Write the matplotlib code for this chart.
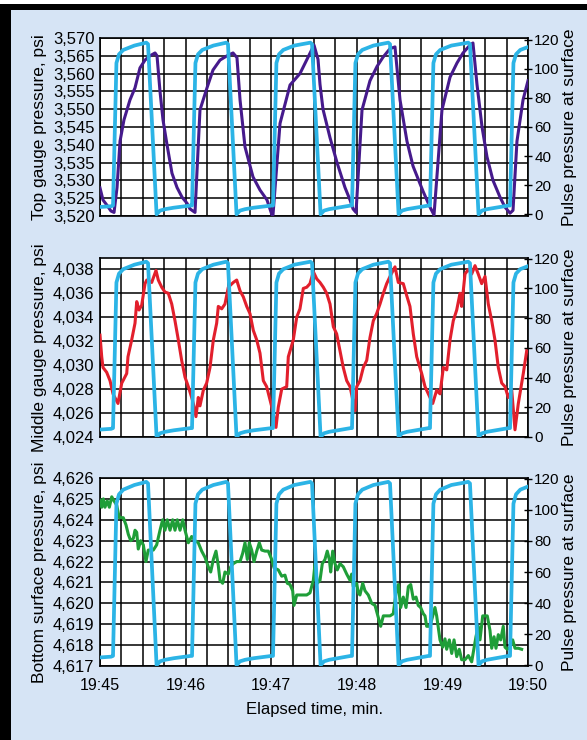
import matplotlib
matplotlib.use("Agg")
import matplotlib.pyplot as plt
from matplotlib.patches import Rectangle
from matplotlib.ticker import MultipleLocator, FuncFormatter, FixedLocator

plt.rcParams['font.family'] = ['Liberation Sans', 'DejaVu Sans']

# ---------------- data (time in minutes after 19:45) ----------------
time_labels = ['19:45', '19:46', '19:47', '19:48', '19:49', '19:50']

pulse_t = [0.0, 0.13,
           0.152, 0.192, 0.222, 0.272, 0.402, 0.541, 0.561, 0.661, 0.701, 0.761, 0.861, 1.06,
           1.075, 1.115, 1.145, 1.195, 1.325, 1.475, 1.495, 1.595, 1.635, 1.695, 1.795, 2.006,
           2.021, 2.061, 2.091, 2.141, 2.271, 2.457, 2.477, 2.577, 2.617, 2.677, 2.777, 2.929,
           2.944, 2.984, 3.014, 3.064, 3.194, 3.368, 3.388, 3.488, 3.528, 3.588, 3.688, 3.84,
           3.855, 3.895, 3.925, 3.975, 4.105, 4.302, 4.322, 4.422, 4.462, 4.522, 4.622, 4.775,
           4.79, 4.83, 4.86, 4.91, 5.0]
pulse_v = [5, 5.5,
           6, 104, 110, 113, 116, 118, 117, 0, 2.5, 3.5, 4.5, 6,
           6, 104, 110, 113, 116, 118, 117, 0, 2.5, 3.5, 4.5, 6,
           6, 104, 110, 113, 116, 118, 117, 0, 2.5, 3.5, 4.5, 6,
           6, 104, 110, 113, 116, 118, 117, 0, 2.5, 3.5, 4.5, 6,
           6, 104, 110, 113, 116, 118, 117, 0, 2.5, 3.5, 4.5, 6,
           6, 104, 110, 113, 115]

top_t = [0.000, 0.035, 0.082, 0.128, 0.164, 0.199, 0.234, 0.280, 0.350, 0.409, 0.467, 0.526,
         0.584, 0.643, 0.666, 0.701, 0.736, 0.783, 0.841, 0.900, 0.958, 1.016, 1.051, 1.110,
         1.168, 1.250, 1.320, 1.402, 1.484, 1.554, 1.600, 1.636, 1.694, 1.787, 1.869, 1.951,
         2.009, 2.021, 2.103, 2.220, 2.336, 2.418, 2.500, 2.547, 2.570, 2.605, 2.687, 2.769,
         2.862, 2.921, 2.956, 2.991, 3.061, 3.154, 3.236, 3.306, 3.388, 3.446, 3.505, 3.586,
         3.657, 3.773, 3.855, 3.902, 3.995, 4.089, 4.171, 4.241, 4.322, 4.357, 4.404, 4.463,
         4.521, 4.591, 4.673, 4.731, 4.790, 4.825, 4.871, 4.942, 5.000]
top_p = [3527.9, 3524.5, 3523.0, 3521.4, 3521.0, 3528.0, 3541.0, 3547.0, 3552.6, 3556.0, 3561.6, 3563.8,
         3565.0, 3565.8, 3565.0, 3555.0, 3547.0, 3540.0, 3532.0, 3528.0, 3525.3, 3523.6, 3522.0, 3521.0,
         3549.8, 3556.0, 3561.0, 3563.8, 3565.0, 3565.8, 3564.5, 3552.6, 3539.4, 3531.0, 3527.3, 3524.5,
         3520.3, 3520.3, 3546.0, 3556.8, 3560.0, 3564.0, 3568.0, 3564.0, 3557.0, 3550.0, 3542.0, 3535.0,
         3528.0, 3524.5, 3522.0, 3521.0, 3549.8, 3558.0, 3562.0, 3564.6, 3567.0, 3567.5, 3552.6, 3541.0,
         3534.0, 3527.0, 3522.5, 3520.3, 3549.8, 3559.0, 3563.0, 3565.8, 3568.0, 3568.6, 3557.0, 3545.0,
         3536.6, 3530.0, 3525.3, 3522.5, 3520.8, 3521.6, 3541.0, 3552.6, 3558.0]

mid_t = [0.000, 0.020, 0.035, 0.078, 0.117, 0.152, 0.210, 0.254, 0.269, 0.312, 0.327, 0.370,
         0.409, 0.429, 0.456, 0.487, 0.526, 0.546, 0.604, 0.654, 0.681, 0.721, 0.759, 0.798,
         0.838, 0.876, 0.915, 0.954, 0.993, 1.032, 1.071, 1.090, 1.121, 1.148, 1.168, 1.207,
         1.246, 1.285, 1.324, 1.363, 1.382, 1.422, 1.460, 1.499, 1.557, 1.597, 1.636, 1.674,
         1.714, 1.752, 1.791, 1.831, 1.869, 1.908, 1.947, 1.986, 2.025, 2.056, 2.083, 2.123,
         2.181, 2.200, 2.258, 2.298, 2.336, 2.375, 2.415, 2.453, 2.492, 2.532, 2.570, 2.609,
         2.648, 2.687, 2.726, 2.765, 2.804, 2.842, 2.882, 2.921, 2.947, 2.979, 2.999, 3.037,
         3.076, 3.116, 3.154, 3.193, 3.232, 3.271, 3.310, 3.349, 3.388, 3.446, 3.485, 3.543,
         3.583, 3.621, 3.660, 3.700, 3.758, 3.797, 3.855, 3.887, 3.933, 3.972, 4.011, 4.051,
         4.089, 4.127, 4.167, 4.206, 4.225, 4.264, 4.303, 4.342, 4.381, 4.419, 4.459, 4.498,
         4.536, 4.576, 4.614, 4.653, 4.693, 4.731, 4.770, 4.810, 4.848, 4.887, 4.926, 4.945,
         4.985]
mid_p = [4032.5, 4030.7, 4029.8, 4029.4, 4028.7, 4027.6, 4026.8, 4028.5, 4028.7, 4029.3, 4030.7, 4032.1,
         4033.5, 4035.3, 4034.6, 4035.0, 4036.8, 4037.1, 4036.9, 4037.9, 4037.1, 4036.5, 4036.1, 4036.0,
         4035.1, 4033.7, 4032.1, 4030.4, 4029.0, 4028.2, 4027.3, 4026.8, 4025.7, 4027.3, 4026.6, 4027.9,
         4028.5, 4029.8, 4032.1, 4033.5, 4034.9, 4034.7, 4035.1, 4036.5, 4036.9, 4037.1, 4036.2, 4035.7,
         4034.9, 4034.3, 4032.9, 4032.1, 4031.0, 4028.7, 4028.2, 4027.1, 4026.0, 4024.8, 4026.5, 4028.0,
         4028.2, 4030.7, 4032.1, 4034.0, 4034.7, 4036.4, 4036.5, 4036.8, 4037.8, 4037.2, 4036.9, 4036.5,
         4036.0, 4035.1, 4033.2, 4032.6, 4031.2, 4029.8, 4028.7, 4028.2, 4027.3, 4026.2, 4028.2, 4028.7,
         4029.8, 4030.4, 4032.3, 4033.7, 4034.3, 4035.1, 4036.0, 4036.8, 4037.4, 4038.2, 4036.9, 4036.8,
         4035.8, 4034.9, 4032.6, 4030.7, 4029.3, 4028.2, 4027.3, 4026.8, 4027.9, 4027.6, 4029.8, 4029.6,
         4032.1, 4033.7, 4034.6, 4036.0, 4034.9, 4037.6, 4038.0, 4037.6, 4038.3, 4037.6, 4036.8, 4037.4,
         4035.1, 4033.7, 4032.1, 4029.8, 4028.5, 4028.2, 4027.3, 4027.9, 4024.6, 4026.8, 4028.5, 4029.3,
         4031.2]

bot_t = [0.000, 0.020, 0.039, 0.058, 0.085, 0.109, 0.137, 0.164, 0.195, 0.225, 0.272, 0.304,
         0.331, 0.359, 0.389, 0.409, 0.429, 0.447, 0.475, 0.506, 0.537, 0.564, 0.623, 0.662,
         0.701, 0.732, 0.759, 0.786, 0.818, 0.849, 0.876, 0.903, 0.935, 0.966, 0.993, 1.032,
         1.071, 1.110, 1.148, 1.188, 1.227, 1.265, 1.293, 1.324, 1.355, 1.382, 1.402, 1.433,
         1.460, 1.499, 1.527, 1.557, 1.597, 1.636, 1.667, 1.694, 1.721, 1.744, 1.772, 1.799,
         1.831, 1.861, 1.889, 1.928, 1.966, 2.006, 2.033, 2.083, 2.123, 2.161, 2.188, 2.220,
         2.251, 2.266, 2.298, 2.356, 2.415, 2.453, 2.492, 2.512, 2.539, 2.570, 2.597, 2.628,
         2.655, 2.679, 2.695, 2.718, 2.745, 2.772, 2.804, 2.842, 2.882, 2.921, 2.940, 2.959,
         2.999, 3.017, 3.037, 3.069, 3.096, 3.134, 3.174, 3.213, 3.239, 3.279, 3.310, 3.388,
         3.426, 3.458, 3.485, 3.513, 3.543, 3.575, 3.602, 3.630, 3.660, 3.692, 3.718, 3.746,
         3.777, 3.797, 3.816, 3.855, 3.887, 3.913, 3.933, 3.972, 4.003, 4.030, 4.050, 4.081,
         4.109, 4.136, 4.167, 4.197, 4.225, 4.264, 4.303, 4.342, 4.369, 4.392, 4.419, 4.439,
         4.471, 4.524, 4.556, 4.576, 4.603, 4.626, 4.653, 4.681, 4.711, 4.731, 4.758, 4.790,
         4.821, 4.848, 4.887, 4.926]
bot_p = [4624.94, 4624.6, 4625.0, 4624.6, 4624.9, 4624.6, 4625.1, 4624.9, 4624.7, 4624.1, 4624.1, 4623.75,
         4623.3, 4623.0, 4623.1, 4623.5, 4623.4, 4622.6, 4623.0, 4622.8, 4622.0, 4622.55, 4622.55, 4622.8,
         4623.5, 4624.0, 4623.5, 4624.0, 4623.5, 4624.0, 4623.5, 4624.0, 4623.5, 4624.0, 4623.5, 4622.9,
         4623.2, 4623.0, 4622.9, 4622.5, 4622.2, 4621.75, 4621.5, 4622.1, 4622.5, 4621.8, 4621.1, 4620.96,
         4621.5, 4621.4, 4621.75, 4621.9, 4622.0, 4622.0, 4622.4, 4622.9, 4622.1, 4622.9, 4622.55, 4622.0,
         4622.5, 4622.9, 4622.55, 4622.5, 4622.5, 4622.1, 4621.7, 4621.6, 4621.3, 4621.35, 4620.96, 4620.9,
         4620.6, 4619.9, 4620.4, 4620.4, 4620.4, 4620.5, 4621.1, 4621.9, 4620.96, 4621.1, 4621.9, 4622.1,
         4622.5, 4622.1, 4621.5, 4622.5, 4621.9, 4621.6, 4621.9, 4621.75, 4621.4, 4621.1, 4621.4, 4620.8,
         4620.96, 4620.5, 4620.4, 4620.96, 4620.6, 4620.4, 4620.0, 4619.9, 4619.5, 4618.9, 4619.4, 4619.4,
         4619.5, 4620.5, 4620.9, 4619.8, 4620.3, 4619.8, 4620.8, 4620.9, 4620.2, 4620.3, 4619.9, 4619.8,
         4619.5, 4619.4, 4618.9, 4618.9, 4619.4, 4619.8, 4619.4, 4618.25, 4617.9, 4618.3, 4617.8, 4618.25,
         4617.6, 4618.25, 4617.45, 4617.8, 4617.3, 4617.3, 4617.5, 4617.2, 4617.85, 4618.4, 4618.9, 4618.25,
         4619.4, 4619.4, 4618.7, 4617.85, 4618.4, 4617.85, 4618.5, 4618.25, 4618.9, 4617.9, 4617.8, 4617.9,
         4618.25, 4617.85, 4617.85, 4617.8]

panels = [
    dict(t=top_t, p=top_p, color='#461a8c', ylim=(3520, 3570), step=5,
         label='Top gauge pressure, psi', rlim=(-1.2, 121.2)),
    dict(t=mid_t, p=mid_p, color='#e21f2c', ylim=(4024, 4038.94), step=2,
         label='Middle gauge pressure, psi', rlim=(0, 120.5)),
    dict(t=bot_t, p=bot_p, color='#1f9e38', ylim=(4617, 4626), step=1,
         label='Bottom surface pressure, psi', rlim=(-0.5, 120.5)),
]

# ---------------- figure ----------------
W, H = 587, 740
fig = plt.figure(figsize=(W / 100, H / 100), dpi=100)
fig.patch.set_facecolor('#d6e4f5')
fig.patches.append(Rectangle((0, 1 - 4 / H), 1, 4 / H, transform=fig.transFigure,
                             facecolor='white', edgecolor='none', zorder=-1))
fig.patches.append(Rectangle((0, 1 - 10 / H), 1, 6 / H, transform=fig.transFigure,
                             facecolor='black', edgecolor='none', zorder=-1))
fig.patches.append(Rectangle((0, 0), 11 / W, 1 - 4 / H, transform=fig.transFigure,
                             facecolor='black', edgecolor='none', zorder=-1))

boxes = [(38, 216), (258, 437), (478, 666)]
x0, x1 = 100, 528
blue = '#2cb4e6'

for i, (pan, (ytop, ybot)) in enumerate(zip(panels, boxes)):
    ax = fig.add_axes([x0 / W, 1 - ybot / H, (x1 - x0) / W, (ybot - ytop) / H])
    ax.set_facecolor('white')
    ax.plot(pan['t'], pan['p'], color=pan['color'], lw=2.2, solid_joinstyle='round', zorder=3)
    ax.set_xlim(0, 5)
    ax.set_ylim(*pan['ylim'])
    lo, hi = pan['ylim']
    step = pan['step']
    ticks = []
    v = lo
    while v <= hi + 1e-9:
        ticks.append(v)
        v += step
    ax.yaxis.set_major_locator(FixedLocator(ticks))
    ax.yaxis.set_major_formatter(FuncFormatter(lambda val, pos: f'{val:,.0f}'))
    ax.xaxis.set_major_locator(MultipleLocator(1))
    ax.xaxis.set_minor_locator(MultipleLocator(0.25))
    ax.grid(True, which='both', axis='x', color='black', lw=1.1)
    ax.grid(True, which='major', axis='y', color='black', lw=1.1)
    ax.set_axisbelow(True)
    for s in ax.spines.values():
        s.set_color('black')
        s.set_linewidth(1.2)
    ax.tick_params(axis='y', which='both', length=0, pad=4, labelsize=12)
    ax.tick_params(axis='x', which='both', length=0, pad=9, labelsize=11.5)
    if i == 2:
        ax.set_xticklabels([''] + time_labels + [''], fontsize=11.5) if False else None
        ax.xaxis.set_major_formatter(FuncFormatter(lambda val, pos: time_labels[int(round(val))]
                                                   if 0 <= round(val) < len(time_labels) else ''))
        ax.set_xlabel('Elapsed time, min.', fontsize=12, labelpad=6)
    else:
        ax.tick_params(axis='x', labelbottom=False)
    ax.set_ylabel(pan['label'], fontsize=12.5)
    ax.yaxis.set_label_coords(-0.123, 0.5)

    ax2 = ax.twinx()
    ax2.plot(pulse_t, pulse_v, color=blue, lw=2.7, solid_joinstyle='round', zorder=4)
    ax2.set_ylim(*pan['rlim'])
    ax2.set_xlim(0, 5)
    ax2.yaxis.set_major_locator(FixedLocator([0, 20, 40, 60, 80, 100, 120]))
    ax2.tick_params(axis='y', direction='inout', length=6, width=1, pad=1.5, labelsize=11)
    for s in ax2.spines.values():
        s.set_visible(False)
    ax2.set_ylabel('Pulse pressure at surface', fontsize=12.5)
    ax2.yaxis.set_label_coords(1.079, 0.5)

fig.savefig('out.png', dpi=100, facecolor=fig.get_facecolor())
